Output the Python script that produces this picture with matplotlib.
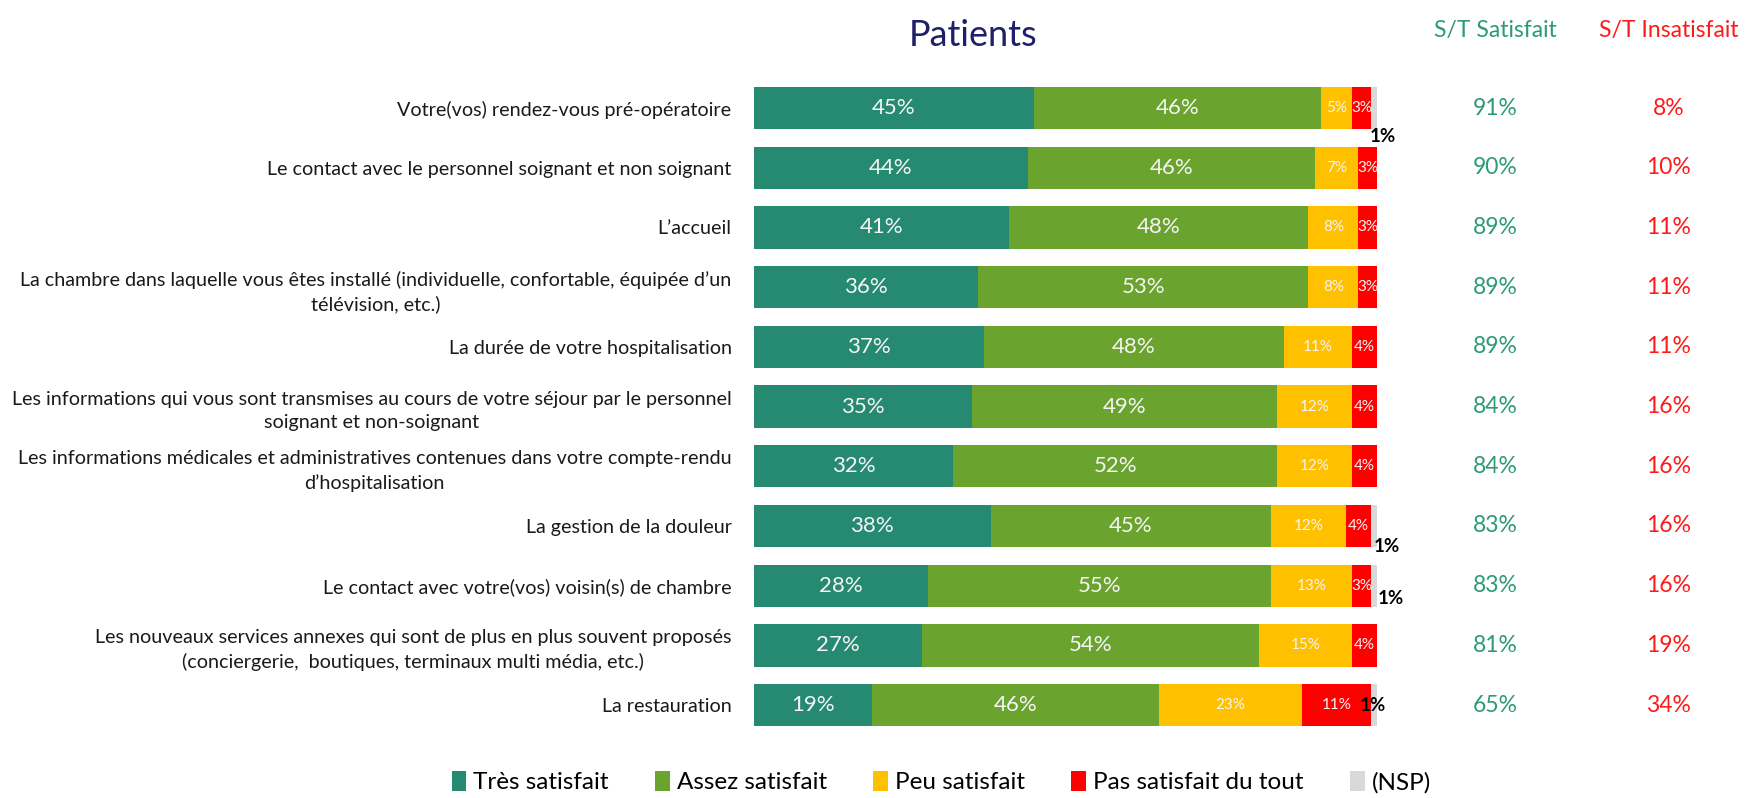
import matplotlib.pyplot as plt
from matplotlib.patches import Patch
from matplotlib.transforms import blended_transform_factory

plt.rcParams['font.family'] = ['Lato', 'DejaVu Sans']

# Données
questions = [
    "Votre(vos) rendez-vous pré-opératoire",
    "Le contact avec le personnel soignant et non soignant",
    "L\u2019accueil",
    "La chambre dans laquelle vous êtes installé (individuelle, confortable, équipée d\u2019un\ntélévision, etc.)",
    "La durée de votre hospitalisation",
    "Les informations qui vous sont transmises au cours de votre séjour par le personnel\nsoignant et non-soignant",
    "Les informations médicales et administratives contenues dans votre compte-rendu\nd\u2019hospitalisation",
    "La gestion de la douleur",
    "Le contact avec votre(vos) voisin(s) de chambre",
    "Les nouveaux services annexes qui sont de plus en plus souvent proposés\n(conciergerie,  boutiques, terminaux multi média, etc.)",
    "La restauration",
]
tres_satisfait = [45, 44, 41, 36, 37, 35, 32, 38, 28, 27, 19]
assez_satisfait = [46, 46, 48, 53, 48, 49, 52, 45, 55, 54, 46]
peu_satisfait = [5, 7, 8, 8, 11, 12, 12, 12, 13, 15, 23]
pas_satisfait = [3, 3, 3, 3, 4, 4, 4, 4, 3, 4, 11]
nsp = [1, 0, 0, 0, 0, 0, 0, 1, 1, 0, 1]
st_satisfait = [91, 90, 89, 89, 89, 84, 84, 83, 83, 81, 65]
st_insatisfait = [8, 10, 11, 11, 11, 16, 16, 16, 16, 19, 34]

series = ["Très satisfait", "Assez satisfait", "Peu satisfait", "Pas satisfait du tout", "(NSP)"]
colors = ["#268A72", "#6AA32E", "#FFC000", "#FF0000", "#D9D9D9"]

# position des étiquettes "1%" (décalage x, décalage y en lignes)
nsp_offsets = {0: (1.0, 0.47), 7: (1.6, 0.34), 8: (2.3, 0.22), 10: (-0.7, 0.0)}

fig = plt.figure(figsize=(17.53, 7.98), dpi=100)
ax = fig.add_axes([0.430, 0.079, 0.3555, 0.823])

values = [tres_satisfait, assez_satisfait, peu_satisfait, pas_satisfait, nsp]
y = list(range(len(questions)))
left = [0] * len(questions)
for k, (vals, col) in enumerate(zip(values, colors)):
    ax.barh(y, vals, left=left, height=0.71, color=col, edgecolor='none')
    for i, v in enumerate(vals):
        if v == 0:
            continue
        cx = left[i] + v / 2
        if k < 2:
            ax.text(cx, i, f"{v}%", ha='center', va='center', color='#F5F5F5', fontsize=16)
        elif k < 4:
            ax.text(cx, i, f"{v}%", ha='center', va='center', color='#F5F5F5', fontsize=11)
        else:
            dx, dy = nsp_offsets.get(i, (1.0, 0.4))
            ax.text(100 + dx, i + dy, f"{v}%", ha='center', va='center', color='black',
                    fontsize=13.5, fontweight='bold')
    left = [a + b for a, b in zip(left, vals)]

ax.set_xlim(0, 100)
ax.set_ylim(len(questions) - 0.5, -0.5)
ax.set_yticks(y)
ax.set_yticklabels(questions, fontsize=14.2, multialignment='center', linespacing=1.45,
                   color='#1A1A1A')
ax.tick_params(axis='y', length=0, pad=16)
ax.set_xticks([])
for s in ax.spines.values():
    s.set_visible(False)

# Colonnes de droite
tr = blended_transform_factory(fig.transFigure, ax.transData)
for i in y:
    ax.text(0.853, i, f"{st_satisfait[i]}%", transform=tr, ha='center', va='center',
            color='#2E9A78', fontsize=16.5)
    ax.text(0.952, i, f"{st_insatisfait[i]}%", transform=tr, ha='center', va='center',
            color='#FF1A1A', fontsize=16.5)

fig.text(0.853, 0.962, "S/T Satisfait", ha='center', va='center', color='#2E9A78', fontsize=16.5)
fig.text(0.952, 0.962, "S/T Insatisfait", ha='center', va='center', color='#FF1A1A', fontsize=16.5)
fig.text(0.555, 0.956, "Patients", ha='center', va='center', color='#1F1F6B', fontsize=26)

handles = [Patch(facecolor=c, edgecolor='none') for c in colors]
fig.legend(handles, series, loc='center', bbox_to_anchor=(0.537, 0.02), ncol=5,
           frameon=False, fontsize=17.5, handlelength=0.6, handleheight=0.9,
           handletextpad=0.3, columnspacing=1.9)

fig.savefig('out.png', dpi=100)
